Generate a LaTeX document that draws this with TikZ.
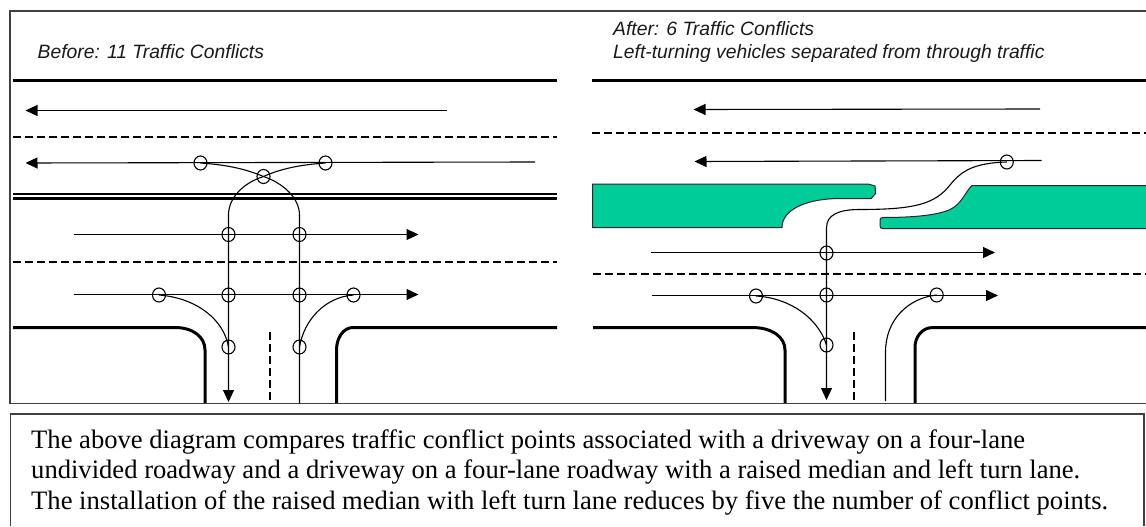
\documentclass[tikz,border=0pt]{standalone}
\usepackage{fontspec}
\setmainfont{Liberation Serif}
\newfontfamily\arialf{Liberation Sans}
\usetikzlibrary{arrows.meta,shapes.geometric}
\definecolor{medianteal}{RGB}{0,204,153}
\tikzset{
 x=1pt,y=-1pt,
 road/.style={line width=3pt,black},
 dashline/.style={line width=1.7pt,black,dash pattern=on 8pt off 4pt},
 flowtip/.style={-{Triangle[length=12pt,width=11pt]}},
 flow/.style={line width=1.1pt,black},
 flowarrow/.style={flow,flowtip},
 conflict/.style={draw=black,line width=1.1pt,ellipse,minimum width=13pt,minimum height=14pt,inner sep=0pt},
 frameline/.style={line width=1.1pt,black!75},
 medianbox/.style={fill=medianteal,draw=black!85,line width=1pt},
 head/.style={font=\arialf\itshape\fontsize{19.3}{22}\selectfont,anchor=base west,inner sep=0pt,text=black!90},
 capt/.style={font=\fontsize{26.6}{31}\selectfont,anchor=base west,inner sep=0pt,text=black},
}
\begin{document}
\begin{tikzpicture}
\useasboundingbox (0,0) rectangle (1146,527);
% frames
\draw[frameline] (1146,11) -- (10,11) -- (10,403.7) -- (1146,403.7);
\draw[frameline] (10.5,525.5) -- (10.5,414) -- (1144,414) -- (1144,525.5);
% headings
\node[head] (hb) at (37.5,58.5) {Before: 11 Traffic Conflicts};
\node[head] (ha1) at (613,36) {After: 6 Traffic Conflicts};
\node[head] (ha2) at (613,59) {Left-turning vehicles separated from through traffic};
% caption
\node[capt] (c1) at (31,448) {The above diagram compares traffic conflict points associated with a driveway on a four-lane};
\node[capt] (c2) at (31,478.5) {undivided roadway and a driveway on a four-lane roadway with a raised median and left turn lane.};
\node[capt] (c3) at (31,509.5) {The installation of the raised median with left turn lane reduces by five the number of conflict points.};
% LEFT
\draw[road] (13,80.5) -- (557,80.5);
\draw[dashline] (13,137) -- (557,137);
\draw[line width=2pt] (13,193.8) -- (557,193.8);
\draw[road] (13,198.5) -- (557,198.5);
\draw[dashline] (13,262) -- (557,262);
\draw[road] (13,327.5) -- (175,327.5) .. controls (193,327.5) and (205,337) .. (205,350) -- (205,403);
\draw[road] (557,327.5) -- (353,327.5) .. controls (344,327.5) and (336.5,337) .. (336.5,350) -- (336.5,403);
\draw[dashline] (270,332) -- (270,403);
\coordinate (a1s) at (447,110.5); \coordinate (a1e) at (25.5,110.5);
\coordinate (a2s) at (535,162); \coordinate (a2e) at (25.5,163);
\coordinate (a3s) at (73.5,234.5); \coordinate (a3e) at (418.5,234.5);
\coordinate (a4s) at (73.5,294.5); \coordinate (a4e) at (418.5,294.5);
\draw[flowarrow] (a1s) -- (a1e);
\draw[flowarrow] (a2s) -- (a2e);
\draw[flowarrow] (a3s) -- (a3e);
\draw[flowarrow] (a4s) -- (a4e);
\foreach \n/\x/\y in {p1/200.5/163,p2/325.5/163,p3/263.5/176.5,p4/228.5/234.5,p5/299.5/234.5,p6/159/295,p7/228.5/295,p8/299.5/295,p9/353.5/295,p10/228.5/347,p11/299.5/347}
  \node[conflict] (\n) at (\x,\y) {};
\coordinate (lb) at (228.5,402);
\coordinate (rb) at (299.5,403);
\draw[flow,flowtip] (p3.center) .. controls (243,183) and (228.5,198) .. (228.5,215) -- (lb);
\draw[flow] (rb) -- (299.5,215) .. controls (299.5,198) and (283,183) .. (p3.center);
\draw[flow] (p2.center) .. controls (296,165) and (278,170) .. (p3.center);
\draw[flow] (p1.center) .. controls (230,165) and (248,170) .. (p3.center);
\draw[flow] (p6.center) .. controls (197,298) and (224,320) .. (p10.center);
\draw[flow] (p9.center) .. controls (325,297) and (304,320) .. (p11.center);
% RIGHT
\draw[road] (592,80.5) -- (1146,80.5);
\draw[dashline] (592,133) -- (1146,133);
\draw[dashline] (593,274) -- (1146,274);
\draw[medianbox] (592.7,184) -- (868.3,184) -- (875,186) -- (875.7,193.3) -- (871,198.7) -- (833,198.7) .. controls (805,200) and (782,210) .. (782,227.5) -- (592.7,227.5) -- cycle;
\draw[medianbox] (1146,185.5) -- (972,185.5) .. controls (965,192) and (962,204) .. (950,209.5) .. controls (938,215) and (915,217.5) .. (883,217.5) .. controls (880.5,217.5) and (880,218.5) .. (880,220.5) -- (880,226) .. controls (880,228) and (881,228.5) .. (883,228.5) -- (1146,228.5);
\draw[road] (593,327.5) -- (752,327.5) .. controls (772,327.5) and (785,337) .. (785,350) -- (785,403);
\draw[road] (1146,327.5) -- (933,327.5) .. controls (922,327.5) and (915,337) .. (915,347) -- (915,403);
\draw[dashline] (854,332) -- (854,403);
\coordinate (b1s) at (1040,109); \coordinate (b1e) at (693.5,109.5);
\coordinate (b2s) at (1041.5,160.5); \coordinate (b2e) at (694.5,161.5);
\coordinate (b3s) at (650.5,252.5); \coordinate (b3e) at (995,252.5);
\coordinate (b4s) at (652,295.5); \coordinate (b4e) at (998,295.5);
\draw[flowarrow] (b1s) -- (b1e);
\draw[flowarrow] (b2s) -- (b2e);
\draw[flowarrow] (b3s) -- (b3e);
\draw[flowarrow] (b4s) -- (b4e);
\foreach \n/\x/\y in {q1/1006.8/162,q2/826.5/253,q3/756/296,q4/826.5/295,q5/936.7/295,q6/826.5/345}
  \node[conflict] (\n) at (\x,\y) {};
\coordinate (qb) at (826.5,400);
\coordinate (qr) at (885.5,401);
\draw[flow,flowtip] (q1.center) .. controls (975,163) and (962,170) .. (950,185) .. controls (935,204) and (915,209.5) .. (860,209.5) .. controls (838,209.5) and (826.5,215) .. (826.5,228) -- (qb);
\draw[flow] (q3.center) .. controls (790,298) and (818,318) .. (q6.center);
\draw[flow] (q5.center) .. controls (908,298) and (885.5,320) .. (885.5,352) -- (qr);
\end{tikzpicture}
\end{document}
